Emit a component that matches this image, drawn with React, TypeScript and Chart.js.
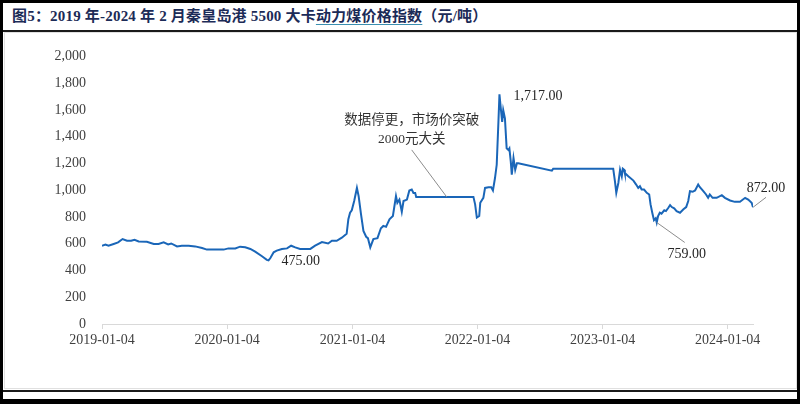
import React, { useEffect, useRef } from "react";
import { Chart, registerables } from "chart.js";

Chart.register(...registerables);

// Qinhuangdao 5500 kcal thermal coal price index (yuan/ton)
// x: days since 2019-01-04
const days: number[] = [
  0, 10, 19, 34, 47, 60, 73, 85, 95, 107, 131, 151, 165, 180, 193, 202, 219, 233, 253, 272, 292, 306, 355, 369, 389,
  403, 418, 433, 447, 467, 481, 486, 491, 501, 510, 525, 540, 552, 564, 578, 593, 608, 622, 642, 660, 671, 685, 700,
  714, 719, 724, 729, 736, 744, 749, 756, 763, 771, 776, 783, 792, 804, 814, 821, 829, 839, 849, 858, 862, 868, 875,
  880, 890, 897, 904, 909, 914, 917, 1084, 1089, 1094, 1101, 1104, 1113, 1118, 1128, 1136, 1141, 1147, 1152, 1157,
  1160, 1164, 1168, 1171, 1176, 1181, 1186, 1189, 1193, 1196, 1201, 1206, 1211, 1215, 1313, 1317, 1492, 1497, 1501,
  1507, 1512, 1517, 1520, 1524, 1526, 1536, 1551, 1559, 1565, 1570, 1575, 1582, 1590, 1597, 1601, 1606, 1611, 1616,
  1619, 1623, 1628, 1633, 1641, 1646, 1653, 1658, 1663, 1670, 1677, 1687, 1697, 1705, 1711, 1716, 1724, 1731, 1740,
  1745, 1755, 1763, 1769, 1774, 1782, 1794, 1809, 1818, 1833, 1847, 1862, 1877, 1886, 1896, 1900,
];

const prices: number[] = [
  585, 593, 585, 598, 610, 635, 622, 622, 630, 617, 615, 598, 598, 610, 595, 602, 580, 585, 585, 580, 568, 556, 556,
  565, 565, 578, 573, 561, 541, 506, 479, 475, 491, 536, 548, 561, 565, 585, 573, 561, 561, 561, 585, 612, 602, 622,
  622, 645, 674, 783, 832, 850, 919, 1017, 956, 820, 696, 652, 642, 573, 635, 642, 716, 733, 726, 783, 807, 956, 906,
  930, 839, 919, 930, 998, 1005, 980, 980, 950, 950, 894, 795, 807, 906, 943, 1017, 1022, 1022, 998, 1091, 1190, 1511,
  1717, 1610, 1511, 1598, 1536, 1313, 1301, 1313, 1215, 1116, 1240, 1153, 1202, 1202, 1146, 1161, 1161, 1067, 980,
  1054, 1153, 1104, 1161, 1153, 1128, 1104, 1072, 1042, 1017, 1030, 1005, 1005, 980, 968, 894, 832, 776, 790, 759, 807,
  832, 825, 850, 844, 869, 889, 874, 864, 844, 832, 857, 874, 919, 993, 988, 998, 1042, 1022, 993, 968, 943, 968, 943,
  943, 963, 943, 923, 913, 913, 943, 930, 906, 872,
];

const xTickLabels: string[] = ["2019-01-04", "2020-01-04", "2021-01-04", "2022-01-04", "2023-01-04", "2024-01-04"];
const yTicks: number[] = [0, 200, 400, 600, 800, 1000, 1200, 1400, 1600, 1800, 2000];

const calloutValues: number[] = [475, 1717, 759, 872];
const noteLines: string[] = ["数据停更，市场价突破", "2000元大关"];
const noteDay = 1006;
const noteValue = 950;

const dayOf = (s: string) => Math.round((Date.parse(s) - Date.parse(xTickLabels[0])) / 86400000);

const numFont = "14px 'Liberation Serif', 'Times New Roman', serif";
const noteFont = "13.5px 'Liberation Serif', 'Noto Sans CJK SC', serif";

const annotationPlugin = {
  id: "callouts",
  afterDatasetsDraw(chart: any) {
    const ctx = chart.ctx as CanvasRenderingContext2D;
    const xs = chart.scales.x;
    const ys = chart.scales.y;
    ctx.save();
    const leader = (x1: number, y1: number, x2: number, y2: number) => {
      ctx.beginPath();
      ctx.strokeStyle = "#8c8c8c";
      ctx.lineWidth = 1;
      ctx.moveTo(x1, y1);
      ctx.lineTo(x2, y2);
      ctx.stroke();
    };
    const label = (t: string, x: number, y: number, align: CanvasTextAlign) => {
      ctx.font = numFont;
      ctx.fillStyle = "#262626";
      ctx.textAlign = align;
      ctx.textBaseline = "middle";
      ctx.fillText(t, x, y);
    };
    calloutValues.forEach((v, k) => {
      const i = prices.indexOf(v);
      const px = xs.getPixelForValue(days[i]);
      const py = ys.getPixelForValue(v);
      const t = v.toLocaleString("en-US", { minimumFractionDigits: 2, maximumFractionDigits: 2 });
      if (k === 0) label(t, px + 13, py + 1, "left");
      if (k === 1) label(t, px + 14, py + 2, "left");
      if (k === 2) {
        leader(px, py, px + 28, py + 20);
        label(t, px + 30, py + 32, "center");
      }
      if (k === 3) {
        leader(px, py, px + 13, py - 10);
        label(t, px + 13, py - 19, "center");
      }
    });
    const nx = xs.getPixelForValue(noteDay);
    const ny = ys.getPixelForValue(noteValue);
    leader(nx, ny, nx - 35, ny - 47);
    ctx.font = noteFont;
    ctx.fillStyle = "#333333";
    ctx.textAlign = "center";
    ctx.textBaseline = "middle";
    ctx.fillText(noteLines[0], nx - 35, ny - 76);
    ctx.fillText(noteLines[1], nx - 35, ny - 57);
    ctx.restore();
  },
};

export default function App() {
  const ref = useRef<HTMLCanvasElement | null>(null);

  useEffect(() => {
    if (!ref.current) return;
    const tickDays = xTickLabels.map(dayOf);
    const chart = new Chart(ref.current, {
      type: "line",
      data: {
        datasets: [
          {
            data: days.map((d, i) => ({ x: d, y: prices[i] })),
            borderColor: "#1a66b8",
            borderWidth: 2,
            pointRadius: 0,
            tension: 0,
            fill: false,
          },
        ],
      },
      options: {
        animation: false,
        responsive: false,
        devicePixelRatio: 1,
        layout: { padding: { top: 22, right: 44, left: 0, bottom: 0 } },
        plugins: { legend: { display: false }, tooltip: { enabled: false } },
        scales: {
          x: {
            type: "linear",
            min: 0,
            max: days[days.length - 1],
            afterBuildTicks: (s: any) => {
              s.ticks = tickDays.map((v) => ({ value: v }));
            },
            afterFit: (s: any) => {
              s.height = 65;
            },
            ticks: {
              autoSkip: false,
              maxRotation: 0,
              minRotation: 0,
              padding: 3,
              color: "#404040",
              font: { family: "'Liberation Serif', 'Times New Roman', serif", size: 14 },
              callback: (_v: any, i: number) => xTickLabels[i],
            },
            grid: { display: true, drawOnChartArea: false, drawTicks: true, tickLength: 5, color: "#d9d9d9" },
            border: { display: true, color: "#d9d9d9", width: 1 },
          },
          y: {
            min: yTicks[0],
            max: yTicks[yTicks.length - 1],
            afterBuildTicks: (s: any) => {
              s.ticks = yTicks.map((v) => ({ value: v }));
            },
            afterFit: (s: any) => {
              s.width = 99;
            },
            ticks: {
              padding: 16,
              color: "#404040",
              font: { family: "'Liberation Serif', 'Times New Roman', serif", size: 14 },
              callback: (v: any) => Number(v).toLocaleString("en-US"),
            },
            grid: { display: false, drawTicks: false },
            border: { display: false },
          },
        },
      },
      plugins: [annotationPlugin],
    } as any);
    return () => chart.destroy();
  }, []);

  return (
    <div
      style={{
        position: "absolute",
        left: 0,
        top: 0,
        width: 800,
        height: 404,
        boxSizing: "border-box",
        borderStyle: "solid",
        borderColor: "#000",
        borderWidth: "3px 3px 5px 3px",
        background: "#fff",
        overflow: "hidden",
      }}
    >
      <div
        style={{
          position: "absolute",
          left: 9,
          top: 0,
          height: 27,
          lineHeight: "27px",
          whiteSpace: "nowrap",
          fontFamily: "'Liberation Serif', 'Noto Sans CJK SC', serif",
          fontWeight: "bold",
          fontSize: 15,
          letterSpacing: "0.2px",
          color: "#1c2b57",
        }}
      >
        图5：2019 年-2024 年 2 月秦皇岛港 5500 大卡
        <span style={{ textDecoration: "underline", textDecorationColor: "#3b8fb0", textUnderlineOffset: 3 }}>
          动力煤价格指数
        </span>
        （元/吨）
      </div>
      <div style={{ position: "absolute", left: 0, top: 27, width: 794, height: 2, background: "#1a1a1a" }} />
      <div
        style={{
          position: "absolute",
          left: 1,
          top: 29,
          width: 791,
          height: 355,
          border: "1px solid #e0e0e0",
        }}
      />
      <canvas
        ref={ref}
        width={794}
        height={357}
        style={{ position: "absolute", left: 0, top: 29, width: 794, height: 357 }}
      />
      <div style={{ position: "absolute", left: 0, top: 387, width: 794, height: 2, background: "#1a1a1a" }} />
    </div>
  );
}
